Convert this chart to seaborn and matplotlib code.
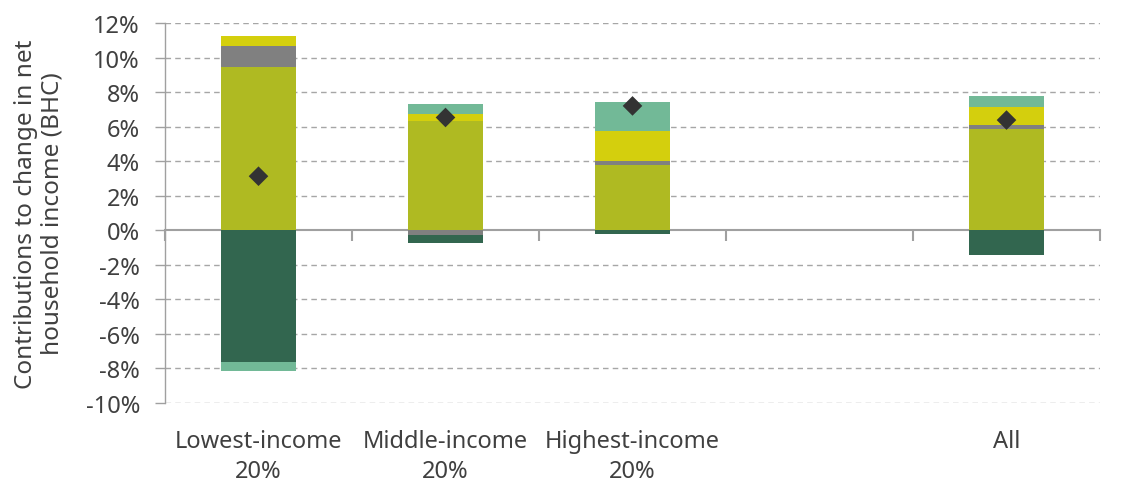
import numpy as np
import pandas as pd
import matplotlib
matplotlib.use("Agg")
import matplotlib.pyplot as plt
import seaborn as sns

# ---- data ----
categories = ["Lowest-income\n20%", "Middle-income\n20%", "Highest-income\n20%", "", "All"]
olive = [9.47, 6.34, 3.77, 0.0, 5.87]
grey = [1.20, -0.30, 0.25, 0.0, 0.23]
yellow = [0.58, 0.37, 1.72, 0.0, 1.03]
dark_green = [-7.63, -0.44, -0.23, 0.0, -1.41]
light_green = [-0.50, 0.58, 1.66, 0.0, 0.62]
net_change = [3.13, 6.53, 7.20, None, 6.38]
y_ticks = list(range(-10, 13, 2))

series = [olive, grey, yellow, dark_green, light_green]
colors = ["#AFBA22", "#808080", "#D4CF0D", "#32664F", "#72B997"]

sns.set_theme(style="white")
plt.rcParams["font.family"] = ["Noto Sans", "DejaVu Sans"]
text_col = "#404040"

fig = plt.figure(figsize=(11.3, 4.85), dpi=100)
ax = fig.add_axes([165 / 1130, 1 - 404 / 485, (1100 - 165) / 1130, (404 - 24) / 485])

x = np.arange(len(categories))
pos_base = np.zeros(len(categories))
neg_base = np.zeros(len(categories))
for vals, col in zip(series, colors):
    v = np.array(vals, dtype=float)
    bottoms = np.where(v >= 0, pos_base, neg_base)
    ax.bar(x, v, bottom=bottoms, width=0.4, color=col, edgecolor="none", zorder=3)
    pos_base = pos_base + np.where(v > 0, v, 0)
    neg_base = neg_base + np.where(v < 0, v, 0)

df_net = pd.DataFrame({"x": x, "net": net_change}).dropna()
sns.scatterplot(data=df_net, x="x", y="net", marker="D", s=100, color="#333333",
                edgecolor="none", zorder=5, ax=ax, legend=False)

ax.set_xlim(-0.5, 4.5)
ax.set_ylim(-10, 12)
ax.set_yticks(y_ticks)
ax.set_yticklabels([f"{t}%" for t in y_ticks], fontsize=17, color=text_col)
ax.set_xticks(x)
ax.set_xticklabels(categories, fontsize=17, color=text_col, linespacing=1.3)
ax.tick_params(axis="x", length=0, pad=19)
ax.tick_params(axis="y", length=7, width=1, color="#A0A0A0", left=True, pad=11)
ax.set_xlabel("")
ax.set_ylabel("Contributions to change in net\nhousehold income (BHC)", fontsize=17.5,
              color=text_col, linespacing=1.15)
ax.yaxis.set_label_coords(-0.107, 0.5)

for t in y_ticks:
    if t != 0:
        ax.axhline(t, color="#A6A6A6", lw=1, ls=(0, (4, 3)), zorder=1)

for s in ["top", "right", "bottom"]:
    ax.spines[s].set_visible(False)
ax.spines["left"].set_color("#A0A0A0")
ax.spines["left"].set_linewidth(1)

# zero axis with category boundary ticks
sec = ax.secondary_xaxis(10 / 22)
sec.set_xticks(np.arange(-0.5, 4.6, 1.0))
sec.set_xticklabels([])
sec.tick_params(axis="x", length=8, width=1.5, color="#A0A0A0", direction="out")
sec.spines["bottom"].set_color("#A0A0A0")
sec.spines["bottom"].set_linewidth(1.5)
for s in ["top", "left", "right"]:
    if s in sec.spines:
        sec.spines[s].set_visible(False)

fig.savefig("out.png", dpi=100)
